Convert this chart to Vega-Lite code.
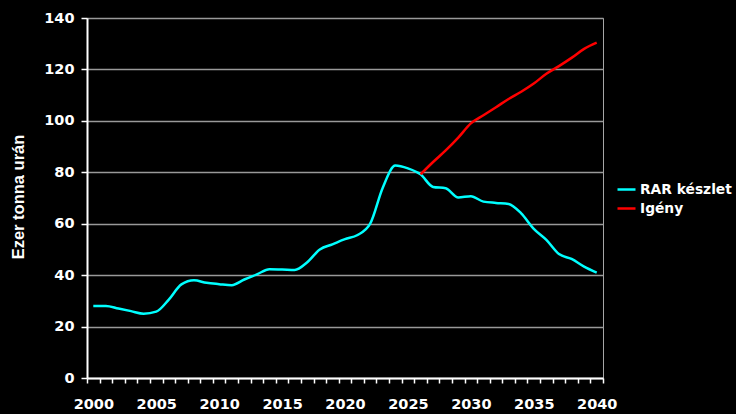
{
 "$schema": "https://vega.github.io/schema/vega-lite/v6.json",
 "width": 516,
 "height": 360,
 "autosize": {"type": "none"},
 "padding": {"left": 87, "top": 18, "right": 133, "bottom": 36},
 "background": "black",
 "config": {"view": {"stroke": "#a6a6a6", "strokeWidth": 1}, "font": "DejaVu Sans"},
 "data": {"values": [
  {"year": 2000, "value": 28.0, "series": "RAR készlet"},
  {"year": 2001, "value": 28.0, "series": "RAR készlet"},
  {"year": 2002, "value": 27.0, "series": "RAR készlet"},
  {"year": 2003, "value": 26.0, "series": "RAR készlet"},
  {"year": 2004, "value": 25.0, "series": "RAR készlet"},
  {"year": 2005, "value": 25.8, "series": "RAR készlet"},
  {"year": 2006, "value": 30.5, "series": "RAR készlet"},
  {"year": 2007, "value": 36.4, "series": "RAR készlet"},
  {"year": 2008, "value": 38.0, "series": "RAR készlet"},
  {"year": 2009, "value": 37.0, "series": "RAR készlet"},
  {"year": 2010, "value": 36.5, "series": "RAR készlet"},
  {"year": 2011, "value": 36.1, "series": "RAR készlet"},
  {"year": 2012, "value": 38.3, "series": "RAR készlet"},
  {"year": 2013, "value": 40.3, "series": "RAR készlet"},
  {"year": 2014, "value": 42.3, "series": "RAR készlet"},
  {"year": 2015, "value": 42.2, "series": "RAR készlet"},
  {"year": 2016, "value": 42.0, "series": "RAR készlet"},
  {"year": 2017, "value": 45.0, "series": "RAR készlet"},
  {"year": 2018, "value": 50.0, "series": "RAR készlet"},
  {"year": 2019, "value": 52.0, "series": "RAR készlet"},
  {"year": 2020, "value": 54.0, "series": "RAR készlet"},
  {"year": 2021, "value": 55.6, "series": "RAR készlet"},
  {"year": 2022, "value": 60.0, "series": "RAR készlet"},
  {"year": 2023, "value": 74.0, "series": "RAR készlet"},
  {"year": 2024, "value": 82.6, "series": "RAR készlet"},
  {"year": 2025, "value": 81.5, "series": "RAR készlet"},
  {"year": 2026, "value": 79.2, "series": "RAR készlet"},
  {"year": 2027, "value": 74.3, "series": "RAR készlet"},
  {"year": 2028, "value": 73.8, "series": "RAR készlet"},
  {"year": 2029, "value": 70.2, "series": "RAR készlet"},
  {"year": 2030, "value": 70.7, "series": "RAR készlet"},
  {"year": 2031, "value": 68.6, "series": "RAR készlet"},
  {"year": 2032, "value": 68.1, "series": "RAR készlet"},
  {"year": 2033, "value": 67.7, "series": "RAR készlet"},
  {"year": 2034, "value": 64.0, "series": "RAR készlet"},
  {"year": 2035, "value": 58.0, "series": "RAR készlet"},
  {"year": 2036, "value": 53.7, "series": "RAR készlet"},
  {"year": 2037, "value": 48.2, "series": "RAR készlet"},
  {"year": 2038, "value": 46.3, "series": "RAR készlet"},
  {"year": 2039, "value": 43.3, "series": "RAR készlet"},
  {"year": 2040, "value": 41.0, "series": "RAR készlet"},
  {"year": 2026, "value": 79.2, "series": "Igény"},
  {"year": 2027, "value": 84.0, "series": "Igény"},
  {"year": 2028, "value": 88.5, "series": "Igény"},
  {"year": 2029, "value": 93.5, "series": "Igény"},
  {"year": 2030, "value": 99.0, "series": "Igény"},
  {"year": 2031, "value": 102.2, "series": "Igény"},
  {"year": 2032, "value": 105.3, "series": "Igény"},
  {"year": 2033, "value": 108.5, "series": "Igény"},
  {"year": 2034, "value": 111.3, "series": "Igény"},
  {"year": 2035, "value": 114.5, "series": "Igény"},
  {"year": 2036, "value": 118.3, "series": "Igény"},
  {"year": 2037, "value": 121.3, "series": "Igény"},
  {"year": 2038, "value": 124.5, "series": "Igény"},
  {"year": 2039, "value": 128.0, "series": "Igény"},
  {"year": 2040, "value": 130.4, "series": "Igény"}
 ]},
 "mark": {"type": "line", "interpolate": "monotone", "strokeWidth": 2.5},
 "encoding": {
  "x": {
   "field": "year", "type": "quantitative",
   "scale": {"domain": [1999.5, 2040.5], "nice": false, "zero": false},
   "axis": {
    "title": null, "grid": false,
    "values": [1999.5,2000.5,2001.5,2002.5,2003.5,2004.5,2005.5,2006.5,2007.5,2008.5,2009.5,2010.5,2011.5,2012.5,2013.5,2014.5,2015.5,2016.5,2017.5,2018.5,2019.5,2020.5,2021.5,2022.5,2023.5,2024.5,2025.5,2026.5,2027.5,2028.5,2029.5,2030.5,2031.5,2032.5,2033.5,2034.5,2035.5,2036.5,2037.5,2038.5,2039.5,2040.5],
    "labelExpr": "(datum.value + 0.5) % 5 === 0 ? format(datum.value + 0.5, 'd') : ''",
    "labelOffset": 6.3, "labelFlush": false, "labelOverlap": false, "labelBound": false,
    "labelColor": "white", "labelFont": "DejaVu Sans", "labelFontSize": 14.5, "labelFontWeight": "bold", "labelPadding": 14,
    "domainColor": "white", "domainWidth": 2, "tickColor": "white", "tickWidth": 1.5, "tickSize": 5
   }
  },
  "y": {
   "field": "value", "type": "quantitative",
   "scale": {"domain": [0, 140], "nice": false},
   "axis": {
    "title": "Ezer tonna urán", "titleColor": "white", "titleFont": "Liberation Sans", "titleFontSize": 16.5, "titleFontWeight": "bold",
    "titleX": -68.5, "titleY": 178.5, "titleAngle": -90, "titleAlign": "center", "titleBaseline": "middle",
    "values": [0,20,40,60,80,100,120,140],
    "labelColor": "white", "labelFont": "DejaVu Sans", "labelFontSize": 14.5, "labelFontWeight": "bold", "labelPadding": 7,
    "domainColor": "white", "domainWidth": 2, "tickColor": "white", "tickWidth": 1.5, "tickSize": 6,
    "gridColor": "#999999", "gridWidth": 1.5
   }
  },
  "color": {
   "field": "series", "type": "nominal",
   "scale": {"domain": ["RAR készlet", "Igény"], "range": ["#00ffff", "#ff0000"]},
   "legend": {
    "title": null, "orient": "none", "legendX": 529, "legendY": 161,
    "symbolType": "stroke", "symbolSize": 324, "symbolStrokeWidth": 2.5,
    "labelColor": "white", "labelFont": "DejaVu Sans", "labelFontSize": 13.8, "labelFontWeight": "bold", "labelOffset": 3, "rowPadding": 1
   }
  }
 }
}
